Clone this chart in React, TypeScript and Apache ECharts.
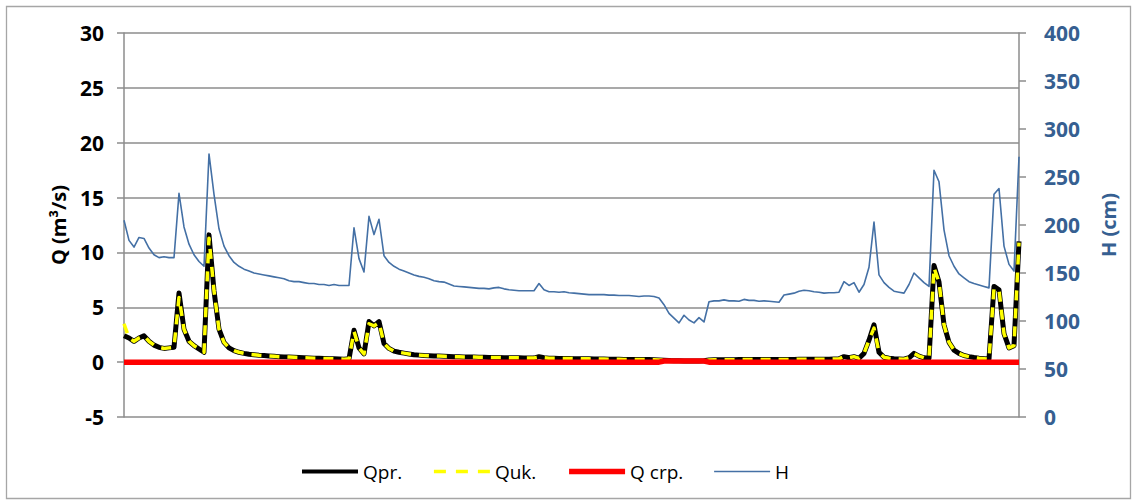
import React, { useEffect, useRef } from "react";
import * as echarts from "echarts";

// categories: one per sample along the horizontal axis (labels not shown)
const days: string[] = Array.from({ length: 180 }, (_, i) => String(i + 1));

// Q measured (m3/s)
const qpr: number[] = [
  2.4, 2.2, 1.9, 2.2, 2.4, 1.9, 1.55, 1.35, 1.25, 1.3,
  1.35, 6.3, 3.0, 1.9, 1.5, 1.2, 0.9, 11.6, 6.5, 3.0,
  1.8, 1.3, 1.05, 0.9, 0.8, 0.72, 0.68, 0.63, 0.6, 0.56,
  0.53, 0.5, 0.48, 0.46, 0.44, 0.42, 0.4, 0.38, 0.36, 0.35,
  0.33, 0.31, 0.3, 0.28, 0.27, 0.3, 2.9, 1.3, 0.75, 3.7,
  3.3, 3.7, 1.7, 1.25, 1.0, 0.9, 0.82, 0.75, 0.68, 0.64,
  0.6, 0.58, 0.56, 0.55, 0.53, 0.52, 0.5, 0.49, 0.48, 0.47,
  0.46, 0.45, 0.44, 0.43, 0.42, 0.42, 0.41, 0.4, 0.4, 0.39,
  0.38, 0.38, 0.37, 0.5, 0.4, 0.36, 0.35, 0.34, 0.34, 0.33,
  0.32, 0.31, 0.3, 0.3, 0.29, 0.28, 0.28, 0.27, 0.26, 0.26,
  0.25, 0.25, 0.24, 0.24, 0.23, 0.23, 0.22, 0.2, 0.18, 0.15,
  0.13, 0.12, 0.11, 0.1, 0.1, 0.1, 0.12, 0.2, 0.22, 0.22,
  0.22, 0.22, 0.22, 0.23, 0.23, 0.23, 0.23, 0.23, 0.23, 0.24,
  0.24, 0.24, 0.25, 0.25, 0.25, 0.26, 0.26, 0.26, 0.27, 0.27,
  0.27, 0.27, 0.28, 0.3, 0.5, 0.4, 0.5, 0.35, 0.8, 2.0,
  3.4, 0.9, 0.45, 0.35, 0.3, 0.28, 0.27, 0.4, 0.8, 0.55,
  0.4, 0.35, 8.8, 7.3, 3.4, 1.8, 1.1, 0.8, 0.6, 0.5,
  0.42, 0.36, 0.32, 0.28, 6.9, 6.6, 2.6, 1.3, 1.5, 11.0,
];

// Q computed (m3/s)
const quk: number[] = [
  3.5, 2.2, 1.9, 2.2, 2.4, 1.9, 1.55, 1.35, 1.25, 1.3,
  1.35, 5.9, 3.0, 1.9, 1.5, 1.2, 0.9, 11.3, 6.5, 3.0,
  1.8, 1.3, 1.05, 0.9, 0.8, 0.72, 0.68, 0.63, 0.6, 0.56,
  0.53, 0.5, 0.48, 0.46, 0.44, 0.42, 0.4, 0.38, 0.36, 0.35,
  0.33, 0.31, 0.3, 0.28, 0.27, 0.3, 2.8, 1.3, 0.75, 3.5,
  3.3, 3.6, 1.7, 1.25, 1.0, 0.9, 0.82, 0.75, 0.68, 0.64,
  0.6, 0.58, 0.56, 0.55, 0.53, 0.52, 0.5, 0.49, 0.48, 0.47,
  0.46, 0.45, 0.44, 0.43, 0.42, 0.42, 0.41, 0.4, 0.4, 0.39,
  0.38, 0.38, 0.37, 0.45, 0.4, 0.36, 0.35, 0.34, 0.34, 0.33,
  0.32, 0.31, 0.3, 0.3, 0.29, 0.28, 0.28, 0.27, 0.26, 0.26,
  0.25, 0.25, 0.24, 0.24, 0.23, 0.23, 0.22, 0.2, 0.18, 0.15,
  0.13, 0.12, 0.11, 0.1, 0.1, 0.1, 0.12, 0.2, 0.22, 0.22,
  0.22, 0.22, 0.22, 0.23, 0.23, 0.23, 0.23, 0.23, 0.23, 0.24,
  0.24, 0.24, 0.25, 0.25, 0.25, 0.26, 0.26, 0.26, 0.27, 0.27,
  0.27, 0.27, 0.28, 0.3, 0.5, 0.4, 0.5, 0.35, 0.8, 2.0,
  3.1, 0.9, 0.45, 0.35, 0.3, 0.28, 0.27, 0.4, 0.8, 0.55,
  0.4, 0.35, 8.6, 7.3, 3.4, 1.8, 1.1, 0.8, 0.6, 0.5,
  0.42, 0.36, 0.32, 0.28, 6.7, 6.6, 2.6, 1.3, 1.5, 10.9,
];

// Q crp (m3/s)
const qcrp: number[] = [
  0, 0, 0, 0, 0, 0, 0, 0, 0, 0, 0, 0, 0, 0, 0, 0, 0, 0, 0, 0,
  0, 0, 0, 0, 0, 0, 0, 0, 0, 0, 0, 0, 0, 0, 0, 0, 0, 0, 0, 0,
  0, 0, 0, 0, 0, 0, 0, 0, 0, 0, 0, 0, 0, 0, 0, 0, 0, 0, 0, 0,
  0, 0, 0, 0, 0, 0, 0, 0, 0, 0, 0, 0, 0, 0, 0, 0, 0, 0, 0, 0,
  0, 0, 0, 0, 0, 0, 0, 0, 0, 0, 0, 0, 0, 0, 0, 0, 0, 0, 0, 0,
  0, 0, 0, 0, 0, 0, 0, 0, 0.1, 0.1, 0.1, 0.1, 0.1, 0.1, 0.1, 0.1, 0.1, 0, 0, 0,
  0, 0, 0, 0, 0, 0, 0, 0, 0, 0, 0, 0, 0, 0, 0, 0, 0, 0, 0, 0,
  0, 0, 0, 0, 0, 0, 0, 0, 0, 0, 0, 0, 0, 0, 0, 0, 0, 0, 0, 0,
  0, 0, 0, 0, 0, 0, 0, 0, 0, 0, 0, 0, 0, 0, 0, 0, 0, 0, 0, 0,
];

// water level H (cm)
const h: number[] = [
  205, 184, 177, 187, 186, 176, 169, 166, 167, 166,
  166, 233, 198, 180, 169, 162, 157, 274, 232, 196,
  178, 168, 161, 157, 154, 152, 150, 149, 148, 147,
  146, 145, 144, 142, 141, 141, 140, 139, 139, 138,
  138, 137, 138, 137, 137, 137, 197, 165, 151, 209,
  190, 206, 168, 161, 157, 154, 152, 150, 148, 146.5,
  145.5, 144, 142, 141, 140.5, 138.5, 136.5, 136, 135.5, 135,
  134.5, 134, 134, 133.5, 134.5, 135, 133.5, 132.5, 132, 131.5,
  131.5, 131.5, 131.5, 139, 132.5, 130.5, 130.5, 130, 130.5, 129.5,
  129, 128.5, 128, 127.5, 127.5, 127.5, 127.5, 127, 127, 126.5,
  126.5, 126.5, 126, 125.5, 126, 126, 125.5, 124, 117, 108,
  103, 98, 106, 101, 98, 103.5, 99, 120, 121, 121,
  122, 121, 121, 120.5, 122.5, 121.5, 121.5, 120.5, 121, 120.5,
  120, 119.5, 127, 128, 129, 131, 132, 131.5, 130.5, 130,
  129, 129.5, 129.5, 130, 141, 137, 140, 130, 138, 156,
  203, 148, 140, 135, 131, 130, 129, 138, 150, 145,
  140, 136, 257, 245, 195, 168, 157, 149, 145, 141,
  139, 137.5, 136, 134.5, 232, 238, 178, 159, 152, 271,
];

const FONT = "Open Sans";
const GRID_GRAY = "#8c8c8c";
const BLUE_TEXT = "#365F91";

export default function App() {
  const ref = useRef<HTMLDivElement>(null);

  useEffect(() => {
    if (!ref.current) return;
    const chart = echarts.init(ref.current, null, { renderer: "svg" });
    chart.setOption({
      animation: false,
      backgroundColor: "#ffffff",
      textStyle: { fontFamily: FONT },
      graphic: [
        {
          type: "rect",
          silent: true,
          z: -10,
          shape: { x: 6.5, y: 6.5, width: 1124, height: 492 },
          style: { fill: "none", stroke: "#a6a6a6", lineWidth: 1.3 },
        },
      ],
      grid: { left: 124, right: 122, top: 33, bottom: 85 },
      legend: {
        left: 295,
        top: 457,
        itemWidth: 56,
        itemHeight: 20,
        itemGap: 30,
        itemStyle: { opacity: 0 },
        textStyle: { fontSize: 19, color: "#000", fontFamily: FONT },
        data: [
          { name: "Qpr.", itemStyle: { opacity: 0 }, lineStyle: { width: 4 } },
          { name: "Quk.", itemStyle: { opacity: 0 }, lineStyle: { width: 3.5, type: [12, 10] } },
          { name: "Q crp.", itemStyle: { opacity: 0 }, lineStyle: { width: 5.5 } },
          { name: "H", itemStyle: { opacity: 0 }, lineStyle: { width: 1.7 } },
        ],
      },
      xAxis: {
        type: "category",
        data: days,
        boundaryGap: false,
        axisLine: { show: false },
        axisTick: { show: false },
        axisLabel: { show: false },
        splitLine: { show: false },
      },
      yAxis: [
        {
          type: "value",
          position: "left",
          min: -5,
          max: 30,
          interval: 5,
          name: "Q (m³/s)",
          nameLocation: "middle",
          nameGap: 56,
          nameRotate: 90,
          nameTextStyle: { fontSize: 20, fontWeight: "bold", color: "#000", fontFamily: FONT },
          axisLine: { show: true, lineStyle: { color: GRID_GRAY, width: 1.5 } },
          axisTick: { show: true, length: 7, lineStyle: { color: GRID_GRAY, width: 1.5 } },
          axisLabel: { fontSize: 21, fontWeight: "bold", color: "#000", margin: 20, fontFamily: FONT },
          splitLine: { show: true, lineStyle: { color: GRID_GRAY, width: 1.5 } },
        },
        {
          type: "value",
          position: "right",
          min: 0,
          max: 400,
          interval: 50,
          name: "H (cm)",
          nameLocation: "middle",
          nameGap: 79,
          nameRotate: 90,
          nameTextStyle: { fontSize: 20, fontWeight: "bold", color: BLUE_TEXT, fontFamily: FONT },
          axisLine: { show: true, lineStyle: { color: GRID_GRAY, width: 1.5 } },
          axisTick: { show: true, length: 7, lineStyle: { color: GRID_GRAY, width: 1.5 } },
          axisLabel: { fontSize: 21, fontWeight: "bold", color: BLUE_TEXT, margin: 25, fontFamily: FONT },
          splitLine: { show: false },
        },
      ],
      series: [
        {
          name: "Qpr.",
          type: "line",
          data: qpr,
          symbol: "none",
          z: 2,
          itemStyle: { color: "#000000" },
          lineStyle: { color: "#000000", width: 5, join: "round" },
        },
        {
          name: "Quk.",
          type: "line",
          data: quk,
          symbol: "none",
          z: 3,
          itemStyle: { color: "#FFFF00" },
          lineStyle: { color: "#FFFF00", width: 3.5, type: [10, 8], join: "round" },
        },
        {
          name: "Q crp.",
          type: "line",
          data: qcrp,
          symbol: "none",
          z: 4,
          itemStyle: { color: "#FF0000" },
          lineStyle: { color: "#FF0000", width: 5.5 },
        },
        {
          name: "H",
          type: "line",
          yAxisIndex: 1,
          data: h,
          symbol: "none",
          z: 5,
          itemStyle: { color: "#4470A5" },
          lineStyle: { color: "#4470A5", width: 1.6, join: "round" },
        },
      ],
    });
    return () => chart.dispose();
  }, []);

  return (
    <div
      ref={ref}
      style={{ position: "fixed", left: 0, top: 0, width: 1141, height: 502, background: "#fff" }}
    />
  );
}
